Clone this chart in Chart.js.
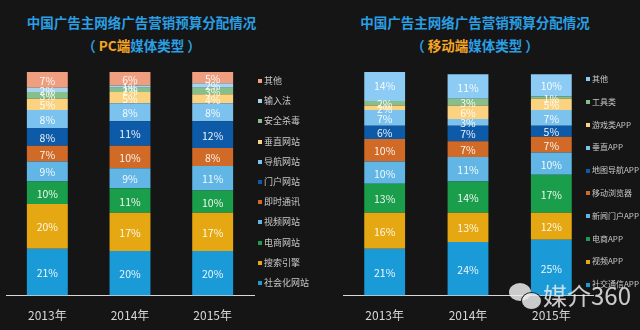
<!DOCTYPE html>
<html>
<head>
<meta charset="utf-8">
<script src="https://cdn.jsdelivr.net/npm/chart.js@4/dist/chart.umd.min.js"></script>
<style>
  body { margin: 0; background: #151515; width: 640px; height: 330px; overflow: hidden; position: relative;
         font-family: "Noto Sans CJK SC", sans-serif; }
  .t { position: absolute; text-align: center; color: #2a9fe3; font-weight: bold; font-size: 13.5px; line-height: 16px; white-space: nowrap; }
  .o { color: #f5a623; }
  .box { position: absolute; top: 60px; width: 320px; height: 282px; }
  .lg { position: absolute; color: #c8c8c8; white-space: nowrap; }
  .lg div { position: relative; }
  .lg i { position: absolute; left: 0; width: 4px; height: 4px; }
  .wm { position: absolute; left: 543px; top: 281px; font-size: 24px; color: rgba(235,235,235,0.85); line-height: 28px; }
  .bub { position: absolute; border-radius: 50%; background: rgba(235,235,235,0.85); }
</style>
</head>
<body>
<div class="t" style="left:0;width:283px;top:14px">中国广告主网络广告营销预算分配情况</div>
<div class="t" style="left:0;width:283px;top:37px">（ <span class="o">PC端</span>媒体类型 ）</div>
<div class="t" style="left:320px;width:310px;top:14px">中国广告主网络广告营销预算分配情况</div>
<div class="t" style="left:320px;width:310px;top:37px">（ <span class="o">移动端</span>媒体类型 ）</div>

<div class="box" style="left:0"><canvas id="pc"></canvas></div>
<div class="box" style="left:320px"><canvas id="mob"></canvas></div>
<div class="lg" id="pcLegend" style="left:258px;top:71px"></div>
<div class="lg" id="mobLegend" style="left:586px;top:68px"></div>

<div class="bub" style="left:509px;top:283px;width:22px;height:18px"></div>
<div class="bub" style="left:521px;top:292px;width:19px;height:16px;border:1px solid #151515"></div>
<div class="wm">媒介360</div>

<script>
// years on the x axis
const years = ["2013年", "2014年", "2015年"];

// PC media types, bottom of the stack first
const pcNames = ["社会化网站", "搜索引擎", "电商网站", "视频网站", "即时通讯", "门户网站",
                 "导航网站", "垂直网站", "安全杀毒", "输入法", "其他"];
const pcShares = [
  [21, 20, 20],
  [20, 17, 17],
  [10, 11, 10],
  [9, 9, 11],
  [7, 10, 8],
  [8, 11, 12],
  [8, 8, 8],
  [5, 5, 4],
  [3, 2, 3],
  [2, 1, 2],
  [7, 6, 5]
];
const pcColors = ["#1b9ad8", "#e6a812", "#1b9e4b", "#62b6e6", "#d06a26", "#0d5ba8",
                  "#7cc2ef", "#fbd27f", "#86bf8a", "#a6d4ef", "#ef9f7f"];

// mobile media types, bottom of the stack first
const mobNames = ["社交通信APP", "视频APP", "电商APP", "新闻门户APP", "移动浏览器", "地图导航APP",
                  "垂直APP", "游戏类APP", "工具类", "其他"];
const mobShares = [
  [21, 24, 25],
  [16, 13, 12],
  [13, 14, 17],
  [10, 11, 10],
  [10, 7, 7],
  [6, 7, 5],
  [7, 3, 7],
  [2, 6, 5],
  [2, 3, 1],
  [14, 11, 10]
];
const mobColors = ["#1b9ad8", "#e6a812", "#1b9e4b", "#62b6e6", "#d06a26", "#0d5ba8",
                   "#7cc2ef", "#fbd27f", "#86bf8a", "#8ccbf3"];

// percent text in the middle of every segment
const barText = {
  id: "barText",
  afterDatasetsDraw(chart) {
    const ctx = chart.ctx;
    ctx.save();
    ctx.font = '10.5px "Noto Sans CJK SC"';
    ctx.fillStyle = "rgba(255,255,255,0.92)";
    ctx.textAlign = "center";
    ctx.textBaseline = "middle";
    chart.data.datasets.forEach((ds, i) => {
      chart.getDatasetMeta(i).data.forEach((bar, j) => {
        const p = bar.getProps(["x", "y", "base"], true);
        ctx.fillText(ds.data[j] + "%", p.x, (p.y + p.base) / 2 + 1);
      });
    });
    ctx.restore();
  }
};

// legend list next to the bars, built from the chart's own legend items
function buildLegend(chart, elId, fontSize, step) {
  const items = Chart.defaults.plugins.legend.labels.generateLabels(chart).reverse();
  const el = document.getElementById(elId);
  el.style.fontSize = fontSize + "px";
  el.innerHTML = items.map(it =>
    `<div style="height:${step}px;line-height:${step}px;padding-left:6px">` +
    `<i style="background:${it.fillStyle};top:${(step - 4) / 2}px"></i>${it.text}</div>`
  ).join("");
}

function drawChart(id, names, shares, colors, cfg) {
  const ctx = document.getElementById(id).getContext("2d");
  const datasets = names.map((name, i) => ({
    label: name,
    data: shares[i],
    backgroundColor: colors[i],
    barPercentage: cfg.barPct,
    categoryPercentage: 1
  }));

  const chart = new Chart(ctx, {
    type: "bar",
    data: { labels: years, datasets: datasets },
    options: {
      responsive: true,
      maintainAspectRatio: false,
      animation: false,
      layout: { padding: cfg.padding },
      scales: {
        x: {
          stacked: true,
          grid: { display: false, drawTicks: false, tickLength: 0 },
          border: { display: true, color: "#d8d8d8", width: 1 },
          ticks: { color: "#d6d6d6", padding: 13, font: { size: 12, family: "Noto Sans CJK SC" } }
        },
        y: { stacked: true, display: false, min: 0, max: 100 }
      },
      plugins: {
        tooltip: { enabled: false },
        legend: { display: false }
      }
    },
    plugins: [barText]
  });
  buildLegend(chart, cfg.legendId, cfg.legendFont, cfg.legendStep);
}

drawChart("pc", pcNames, pcShares, pcColors, {
  barPct: 0.495,
  padding: { left: 6, right: 66, top: 12, bottom: 6 },
  legendId: "pcLegend",
  legendFont: 9,
  legendStep: 20.2
});

drawChart("mob", mobNames, mobShares, mobColors, {
  barPct: 0.49,
  padding: { left: 23, right: 47, top: 12, bottom: 6 },
  legendId: "mobLegend",
  legendFont: 8,
  legendStep: 22.8
});
</script>
</body>
</html>
